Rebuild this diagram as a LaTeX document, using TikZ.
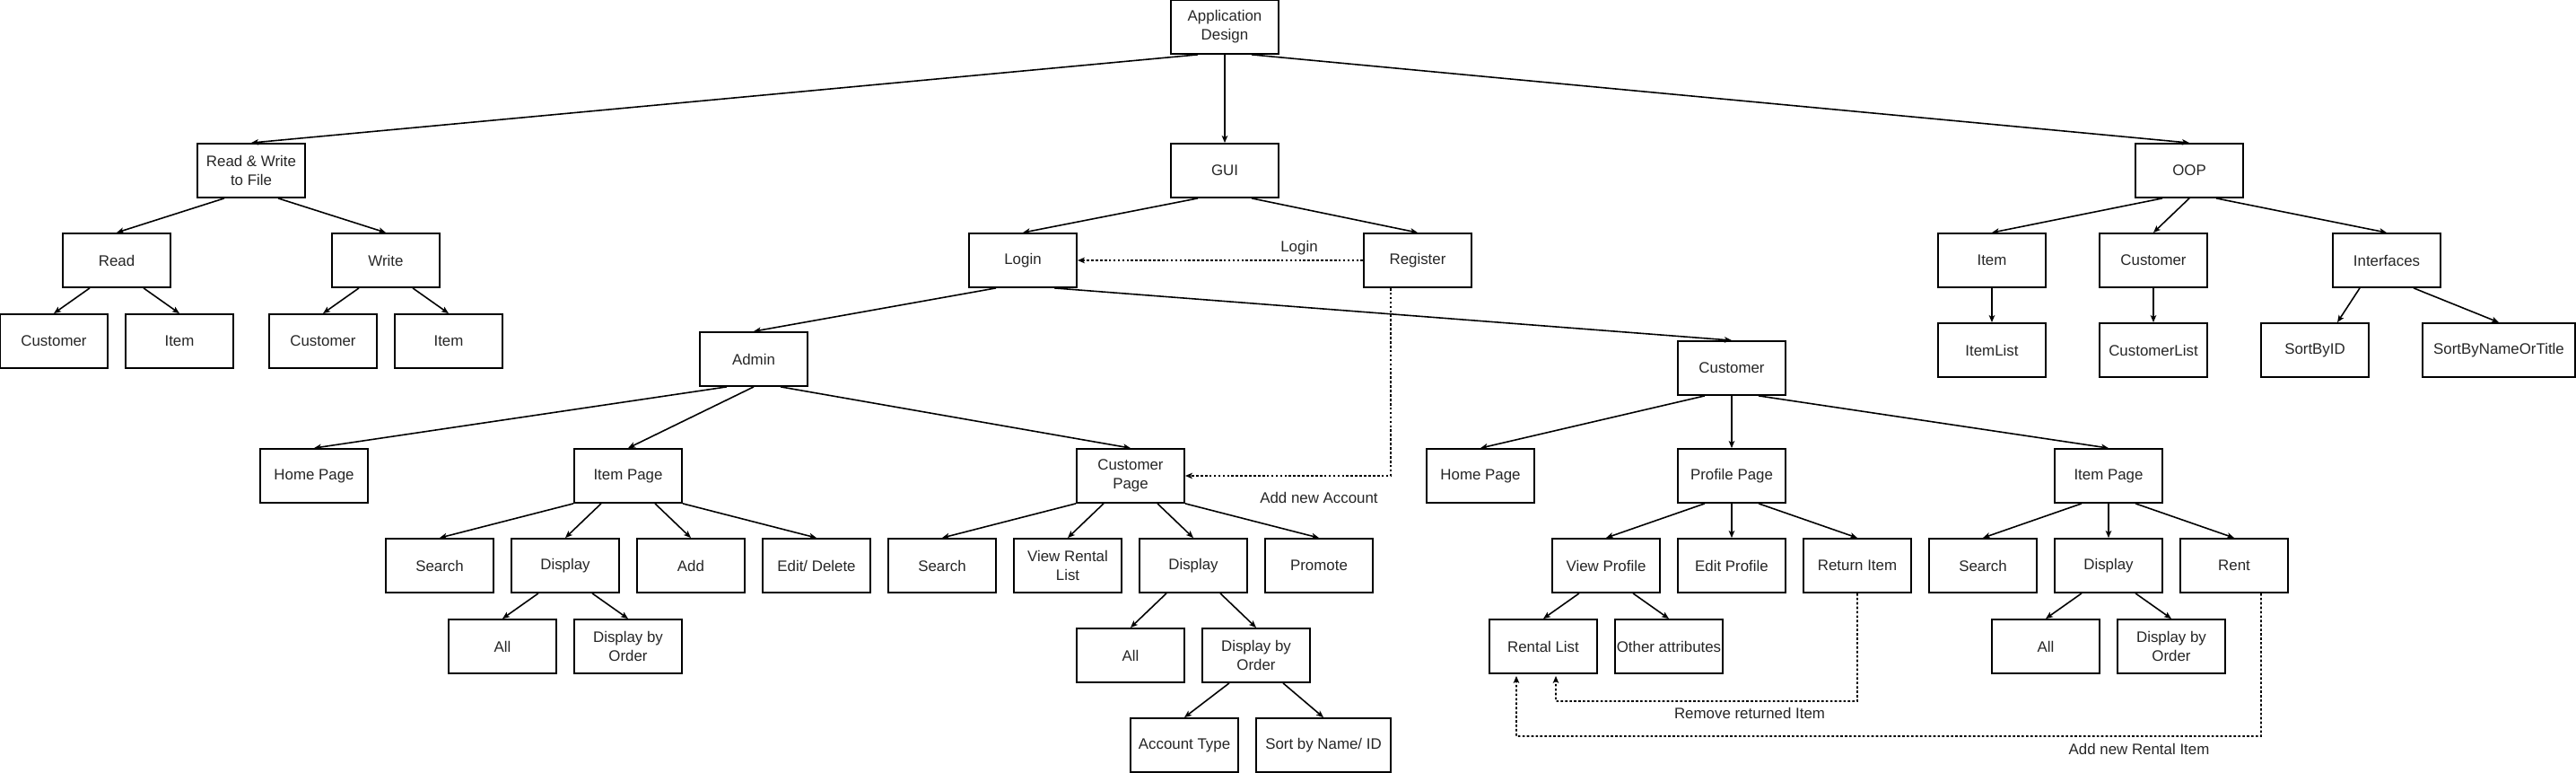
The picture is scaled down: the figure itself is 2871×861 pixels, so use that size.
\documentclass[tikz,border=0pt]{standalone}
\usepackage{fontspec}
\setmainfont{Liberation Sans}
\usetikzlibrary{arrows.meta}
\tikzset{
  x=0.01cm, y=-0.01cm,
  box/.style={draw, line width=0.5pt, minimum width=1.2cm, minimum height=0.6cm, inner sep=0pt,
    align=center, text=black!85, font=\fontsize{4.8}{6}\selectfont},
  lbl/.style={inner sep=0pt, text=black!85, font=\fontsize{4.8}{6}\selectfont},
  arr/.style={line width=0.45pt, -{Stealth[length=0.08cm,width=0.065cm,inset=0.02cm]}},
  dsh/.style={line width=0.45pt, dash pattern=on 0.75pt off 0.65pt, -{Stealth[length=0.08cm,width=0.065cm,inset=0.02cm]}},
}
\begin{document}
\begin{tikzpicture}
\useasboundingbox (0,0) rectangle (2871,861);
% top
\node[box] (app) at (1365,30) {Application\\Design};
\node[box] (rw) at (280,190) {Read \& Write\\to File};
\node[box] (gui) at (1365,190) {GUI};
\node[box] (oop) at (2440,190) {OOP};
% read/write
\node[box] (read) at (130,290) {Read};
\node[box] (write) at (430,290) {Write};
\node[box] (rc) at (60,380) {Customer};
\node[box] (ri) at (200,380) {Item};
\node[box] (wc) at (360,380) {Customer};
\node[box] (wi) at (500,380) {Item};
% gui
\node[box] (login) at (1140,290) {Login};
\node[box] (reg) at (1580,290) {Register};
% oop
\node[box] (oitem) at (2220,290) {Item};
\node[box] (ocust) at (2400,290) {Customer};
\node[box] (oint) at (2660,290) {Interfaces};
\node[box] (oil) at (2220,390) {ItemList};
\node[box] (ocl) at (2400,390) {CustomerList};
\node[box] (osid) at (2580,390) {SortByID};
\node[box, minimum width=1.7cm] (osn) at (2785,390) {SortByNameOrTitle};
% admin
\node[box] (admin) at (840,400) {Admin};
\node[box] (ahome) at (350,530) {Home Page};
\node[box] (aitem) at (700,530) {Item Page};
\node[box] (acust) at (1260,530) {Customer\\Page};
\node[box] (as) at (490,630) {Search};
\node[box] (ad) at (630,630) {Display};
\node[box] (aadd) at (770,630) {Add};
\node[box] (aed) at (910,630) {Edit/ Delete};
\node[box] (cs) at (1050,630) {Search};
\node[box] (cvr) at (1190,630) {View Rental\\List};
\node[box] (cd) at (1330,630) {Display};
\node[box] (cp) at (1470,630) {Promote};
\node[box] (ada) at (560,720) {All};
\node[box] (adbo) at (700,720) {Display by\\Order};
\node[box] (cda) at (1260,730) {All};
\node[box] (cdbo) at (1400,730) {Display by\\Order};
\node[box] (cat) at (1320,830) {Account Type};
\node[box, minimum width=1.5cm] (csn) at (1475,830) {Sort by Name/ ID};
% customer
\node[box] (cust) at (1930,410) {Customer};
\node[box] (uhome) at (1650,530) {Home Page};
\node[box] (uprof) at (1930,530) {Profile Page};
\node[box] (uitem) at (2350,530) {Item Page};
\node[box] (uvp) at (1790,630) {View Profile};
\node[box] (uep) at (1930,630) {Edit Profile};
\node[box] (uri) at (2070,630) {Return Item};
\node[box] (us) at (2210,630) {Search};
\node[box] (ud) at (2350,630) {Display};
\node[box] (ur) at (2490,630) {Rent};
\node[box] (url) at (1720,720) {Rental List};
\node[box] (uoa) at (1860,720) {Other attributes};
\node[box] (uda) at (2280,720) {All};
\node[box] (udbo) at (2420,720) {Display by\\Order};
% labels
\node[lbl] (llogin) at (1448,276) {Login};
\node[lbl] (lacc) at (1470,554) {Add new Account};
\node[lbl] (lrem) at (1950,794) {Remove returned Item};
\node[lbl] (lrent) at (2384,834) {Add new Rental Item};
% tree edges
\draw[arr] ([xshift=-0.3cm]app.south) -- (rw.north);
\draw[arr] (app.south) -- (gui.north);
\draw[arr] ([xshift=0.3cm]app.south) -- (oop.north);
\draw[arr] ([xshift=-0.3cm]rw.south) -- (read.north);
\draw[arr] ([xshift=0.3cm]rw.south) -- (write.north);
\draw[arr] ([xshift=-0.3cm]read.south) -- (rc.north);
\draw[arr] ([xshift=0.3cm]read.south) -- (ri.north);
\draw[arr] ([xshift=-0.3cm]write.south) -- (wc.north);
\draw[arr] ([xshift=0.3cm]write.south) -- (wi.north);
\draw[arr] ([xshift=-0.3cm]gui.south) -- (login.north);
\draw[arr] ([xshift=0.3cm]gui.south) -- (reg.north);
\draw[arr] ([xshift=-0.3cm]login.south) -- (admin.north);
\draw[arr] ([xshift=0.35cm]login.south) -- (cust.north);
\draw[arr] ([xshift=-0.3cm]oop.south) -- (oitem.north);
\draw[arr] (oop.south) -- (ocust.north);
\draw[arr] ([xshift=0.3cm]oop.south) -- (oint.north);
\draw[arr] (oitem.south) -- (oil.north);
\draw[arr] (ocust.south) -- (ocl.north);
\draw[arr] ([xshift=-0.3cm]oint.south) -- ([xshift=0.25cm]osid.north);
\draw[arr] ([xshift=0.3cm]oint.south) -- (osn.north);
\draw[arr] ([xshift=-0.3cm]admin.south) -- (ahome.north);
\draw[arr] (admin.south) -- (aitem.north);
\draw[arr] ([xshift=0.3cm]admin.south) -- (acust.north);
\draw[arr] (aitem.south west) -- (as.north);
\draw[arr] ([xshift=-0.3cm]aitem.south) -- (ad.north);
\draw[arr] ([xshift=0.3cm]aitem.south) -- (aadd.north);
\draw[arr] (aitem.south east) -- (aed.north);
\draw[arr] (acust.south west) -- (cs.north);
\draw[arr] ([xshift=-0.3cm]acust.south) -- (cvr.north);
\draw[arr] ([xshift=0.3cm]acust.south) -- (cd.north);
\draw[arr] (acust.south east) -- (cp.north);
\draw[arr] ([xshift=-0.3cm]ad.south) -- (ada.north);
\draw[arr] ([xshift=0.3cm]ad.south) -- (adbo.north);
\draw[arr] ([xshift=-0.3cm]cd.south) -- (cda.north);
\draw[arr] ([xshift=0.3cm]cd.south) -- (cdbo.north);
\draw[arr] ([xshift=-0.3cm]cdbo.south) -- (cat.north);
\draw[arr] ([xshift=0.3cm]cdbo.south) -- (csn.north);
\draw[arr] ([xshift=-0.3cm]cust.south) -- (uhome.north);
\draw[arr] (cust.south) -- (uprof.north);
\draw[arr] ([xshift=0.3cm]cust.south) -- (uitem.north);
\draw[arr] ([xshift=-0.3cm]uprof.south) -- (uvp.north);
\draw[arr] (uprof.south) -- (uep.north);
\draw[arr] ([xshift=0.3cm]uprof.south) -- (uri.north);
\draw[arr] ([xshift=-0.3cm]uitem.south) -- (us.north);
\draw[arr] (uitem.south) -- (ud.north);
\draw[arr] ([xshift=0.3cm]uitem.south) -- (ur.north);
\draw[arr] ([xshift=-0.3cm]uvp.south) -- (url.north);
\draw[arr] ([xshift=0.3cm]uvp.south) -- (uoa.north);
\draw[arr] ([xshift=-0.3cm]ud.south) -- (uda.north);
\draw[arr] ([xshift=0.3cm]ud.south) -- (udbo.north);
% dashed edges
\draw[dsh] (reg.west) -- (login.east);
\draw[dsh] ([xshift=-0.3cm]reg.south) |- (acust.east);
\draw[dsh] (uri.south) |- (1734,781) -- ([xshift=0.14cm,yshift=-0.02cm]url.south);
\draw[dsh] ([xshift=0.3cm]ur.south) |- (1690,820) -- ([xshift=-0.3cm,yshift=-0.02cm]url.south);
\end{tikzpicture}
\end{document}
